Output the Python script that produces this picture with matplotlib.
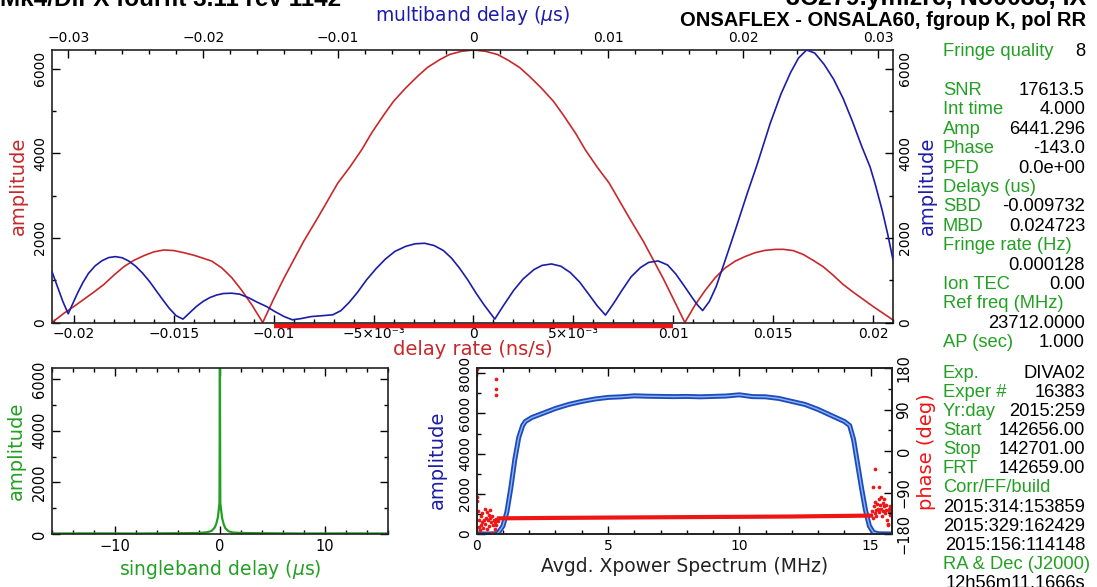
import numpy as np
import matplotlib
matplotlib.use('Agg')
import matplotlib.pyplot as plt
import matplotlib.ticker as ticker

# delay rate (ns/s) vs amplitude -- red curve
rate_x = [-0.0211, -0.0205, -0.0200, -0.0195, -0.0190, -0.0185, -0.0180, -0.0175,
          -0.0170, -0.0165, -0.0160, -0.0155, -0.0150, -0.0145, -0.0140, -0.0136,
          -0.0131, -0.0126, -0.0121, -0.0116, -0.0111, -0.01055,
          -0.0100, -0.0095, -0.0090, -0.0085, -0.0078, -0.0073, -0.0068, -0.0062,
          -0.0056, -0.0051, -0.0045, -0.0040, -0.0034, -0.0028, -0.0023, -0.0017,
          -0.0012, -0.0006, 0.0,
          0.0006, 0.0012, 0.0017, 0.0023, 0.0028, 0.0034, 0.0040, 0.0045,
          0.0051, 0.0056, 0.0062, 0.0068, 0.0073, 0.0078, 0.0085, 0.0090,
          0.0095, 0.0100, 0.01058,
          0.0111, 0.0116, 0.0121, 0.0126, 0.0131, 0.0136, 0.0141, 0.0146,
          0.0151, 0.0155, 0.0160, 0.0165, 0.0170, 0.0175, 0.0180, 0.0185,
          0.0190, 0.0195, 0.0200, 0.0205, 0.0210]
rate_amp = [0, 220, 380, 550, 720, 900, 1120, 1320,
            1470, 1580, 1670, 1714, 1700, 1650, 1590, 1530,
            1450, 1290, 1060, 760, 420, 0,
            560, 1037, 1480, 1920, 2472, 2880, 3290, 3667,
            4080, 4480, 4900, 5230, 5540, 5819, 6030, 6210,
            6335, 6410, 6441,
            6410, 6335, 6210, 6030, 5819, 5540, 5230, 4900,
            4480, 4080, 3667, 3290, 2880, 2472, 1920, 1480,
            1037, 560, 0,
            420, 760, 1060, 1290, 1450, 1560, 1650, 1705,
            1728, 1730, 1700, 1610, 1470, 1320, 1120, 900,
            720, 550, 380, 220, 60]

# multiband delay (us) vs amplitude -- blue curve
mbd_x = [-0.0312, -0.0308, -0.0304, -0.0300, -0.0297, -0.0293, -0.0289, -0.0285,
         -0.0280, -0.0275, -0.0270, -0.0265, -0.0260, -0.0255, -0.0250, -0.0245,
         -0.0240, -0.0235, -0.0230, -0.0225, -0.0220, -0.0215,
         -0.0210, -0.0205, -0.0200, -0.0195, -0.0190, -0.0185, -0.0179, -0.0173,
         -0.0166, -0.0160, -0.0153, -0.0147, -0.0140, -0.0134,
         -0.0128, -0.0120, -0.0113, -0.0104, -0.0098, -0.0092, -0.0086, -0.0079,
         -0.0072, -0.0065, -0.0058, -0.0050, -0.0043, -0.0036, -0.0029, -0.0022,
         -0.0016, -0.0010, -0.0004, 0.0002, 0.0008, 0.0016,
         0.0022, 0.0030, 0.0037, 0.0045, 0.0051, 0.0058, 0.0065, 0.0072,
         0.0079, 0.0086, 0.0092, 0.0098,
         0.0104, 0.0110, 0.0117, 0.0124, 0.0130, 0.0137, 0.0144, 0.0150,
         0.0156, 0.0162, 0.0166, 0.0170,
         0.0175, 0.0180, 0.0187, 0.0195, 0.0203, 0.0210, 0.0220, 0.0228,
         0.0235, 0.0241, 0.0247, 0.0253, 0.0260, 0.0267, 0.0274, 0.0281,
         0.0288, 0.0294, 0.0298, 0.0303, 0.0307, 0.0311]
mbd_amp = [1203, 850, 500, 205, 420, 700, 950, 1160,
           1340, 1460, 1535, 1557, 1530, 1450, 1330, 1170,
           980, 760, 540, 330, 160, 80,
           230, 380, 500, 590, 650, 685, 693, 670,
           580, 480, 377, 260, 140, 64,
           90, 140, 158, 182, 280, 470, 700, 1007,
           1270, 1500, 1680, 1800, 1860, 1873, 1820, 1700,
           1520, 1280, 1007, 700, 420, 80,
           380, 760, 1030, 1250, 1350, 1384, 1330, 1180,
           950, 650, 390, 175,
           450, 750, 1080, 1300, 1420, 1455, 1360, 1150,
           880, 600, 420, 283,
           500, 849, 1500, 2264, 3050, 3700, 4703, 5400,
           5900, 6250, 6441, 6370, 6100, 5750, 5300, 4750,
           4150, 3679, 3250, 2650, 2100, 1480]

# search window on delay rate axis
window_x = [-0.0100, 0.0100]

# singleband delay (us)
sbd_x = [-16, -12, -8, -4, -2, -1.2, -0.8, -0.5, -0.35, -0.2, -0.1, -0.05, -0.0097,
         0.03, 0.1, 0.2, 0.35, 0.5, 0.8, 1.2, 2, 4, 8, 12, 16]
sbd_amp = [20, 25, 20, 30, 40, 70, 120, 250, 400, 650, 1000, 1200, 6441,
           1200, 950, 620, 380, 230, 110, 60, 40, 30, 20, 25, 20]

# averaged cross power spectrum (MHz)
xp_freq = [0, 0.5, 0.8, 1.0, 1.15, 1.3, 1.45, 1.6, 1.75, 1.85, 2.1, 2.5, 3.0, 3.5,
           4.0, 4.5, 5.0, 5.5, 6.0, 6.5, 7.0, 7.5, 8.0, 8.5, 9.0, 9.5, 10.0, 10.5,
           11.0, 11.5, 12.0, 12.5, 13.0, 13.5, 14.0, 14.2, 14.35, 14.5, 14.65, 14.8,
           14.95, 15.1, 15.3, 15.8]
xp_amp = [0, 0, 20, 400, 1100, 2300, 3700, 4800, 5400, 5600, 5800, 6000, 6250, 6450,
          6600, 6720, 6800, 6830, 6880, 6860, 6850, 6840, 6850, 6830, 6850, 6870, 6930, 6840,
          6830, 6750, 6600, 6450, 6200, 5900, 5600, 5400, 4700, 3500, 2300, 1200,
          400, 80, 10, 0]

# phase (deg): band centre and the noisy edge channels
phase_line_x = [0.85, 3, 6, 9, 12, 15.0]
phase_line_y = [-146, -145, -144, -143, -142, -140]
phase_pts_x = [0.02, 0.03, 0.05, 0.08, 0.1, 0.12, 0.15, 0.18, 0.2, 0.22, 0.25, 0.28,
               0.3, 0.33, 0.35, 0.38, 0.4, 0.42, 0.45, 0.48, 0.5, 0.52, 0.55, 0.58,
               0.6, 0.62, 0.65, 0.68, 0.7, 0.72, 0.75, 0.78, 0.8,
               0.03, 0.72, 0.72, 0.72,
               15.0, 15.05, 15.1, 15.12, 15.15, 15.18, 15.2, 15.22, 15.25, 15.28,
               15.3, 15.32, 15.35, 15.38, 15.4, 15.42, 15.45, 15.48, 15.5, 15.52,
               15.55, 15.58, 15.6, 15.62, 15.65, 15.68, 15.7, 15.72, 15.75,
               15.15, 15.1, 15.3, 15.65]
phase_pts_y = [-100, -108, -130, -165, -150, -172, -140, -160, -155, -135, -168, -150,
               -125, -158, -145, -170, -132, -150, -138, -162, -128, -145, -155, -140,
               -178, -160, -150, -170, -155, -148, -160, -150, -152,
               178, 157, 135, 121,
               -138, -130, -145, -120, -135, -110, -128, -140, -115, -125,
               -105, -132, -118, -100, -125, -140, -112, -130, -120, -105,
               -135, -118, -128, -150, -160, -125, -132, -120, -138,
               -39, -78, -78, -158]

# fringe summary text
block1_labels = ['Fringe quality', '', 'SNR', 'Int time', 'Amp', 'Phase', 'PFD',
                 'Delays (us)', 'SBD', 'MBD', 'Fringe rate (Hz)', '', 'Ion TEC',
                 'Ref freq (MHz)', '', 'AP (sec)']
block1_values = ['8', '', '17613.5', '4.000', '6441.296', '-143.0', '0.0e+00',
                 '', '-0.009732', '0.024723', '', '0.000128', '0.00',
                 '', '23712.0000', '1.000']
block2_labels = ['Exp.', 'Exper #', 'Yr:day', 'Start', 'Stop', 'FRT', 'Corr/FF/build',
                 '', '', '', 'RA & Dec (J2000)', '']
block2_values = ['DIVA02', '16383', '2015:259', '142656.00', '142701.00', '142659.00', '',
                 '2015:314:153859', '2015:329:162429', '2015:156:114148', '',
                 '12h56m11.1666s']

RED = '#c8282a'
BLUE = '#1c1ca8'
GREEN = '#23a023'
BRIGHT_RED = '#ee1515'
W, H = 1097, 587

plt.rcParams['font.family'] = ['DejaVu Sans']
fig = plt.figure(figsize=(W / 100, H / 100), dpi=100)


def px_rect(left, top, right, bottom):
    return [left / W, 1 - bottom / H, (right - left) / W, (bottom - top) / H]


def style_ticks(ax):
    ax.tick_params(which='major', direction='in', length=6, width=1.0, labelsize=10)
    ax.tick_params(which='minor', direction='in', length=3, width=1.0)
    for s in ax.spines.values():
        s.set_linewidth(1.2)
        s.set_color('#222222')


def rotate_ylabels(ax):
    for lab in ax.get_yticklabels():
        lab.set_rotation(90)
        lab.set_va('center')


# ---- top panel: delay rate (red) + multiband delay (blue)
pos = px_rect(52, 50, 893, 322.5)
ax1 = fig.add_axes(pos)
ax1.plot(rate_x, rate_amp, color=RED, lw=1.2)
ax1.plot(window_x, [-85, -85], color=BRIGHT_RED, lw=3.2, clip_on=False,
         solid_capstyle='butt')
ax1.set_xlim(-0.0211, 0.0210)
ax1.set_ylim(0, 6441)
rate_ticks = [-0.02, -0.015, -0.01, -0.005, 0, 0.005, 0.01, 0.015, 0.02]
rate_labels = ['\u22120.02', '\u22120.015', '\u22120.01', '\u22125\u00d710\u207b\u00b3', '0',
               '5\u00d710\u207b\u00b3', '0.01', '0.015', '0.02']
ax1.set_xticks(rate_ticks)
ax1.set_xticklabels(rate_labels)
ax1.xaxis.set_minor_locator(ticker.MultipleLocator(0.001))
ax1.set_yticks([0, 2000, 4000, 6000])
ax1.yaxis.set_minor_locator(ticker.MultipleLocator(1000))
rotate_ylabels(ax1)
style_ticks(ax1)
ax1.set_xlabel('delay rate (ns/s)', color=RED, fontsize=14, labelpad=-1)
ax1.set_ylabel('amplitude', color=RED, fontsize=14, labelpad=4)

ax2 = fig.add_axes(pos, frameon=False)
ax2.patch.set_visible(False)
ax2.plot(mbd_x, mbd_amp, color=BLUE, lw=1.2)
ax2.set_xlim(-0.0312, 0.0311)
ax2.set_ylim(0, 6441)
ax2.xaxis.tick_top()
ax2.xaxis.set_label_position('top')
ax2.yaxis.tick_right()
ax2.yaxis.set_label_position('right')
ax2.set_xticks([-0.03, -0.02, -0.01, 0, 0.01, 0.02, 0.03])
ax2.set_xticklabels(['\u22120.03', '\u22120.02', '\u22120.01', '0', '0.01', '0.02', '0.03'])
ax2.xaxis.set_minor_locator(ticker.MultipleLocator(0.002))
ax2.set_yticks([0, 2000, 4000, 6000])
ax2.yaxis.set_minor_locator(ticker.MultipleLocator(1000))
rotate_ylabels(ax2)
style_ticks(ax2)
ax2.set_xlabel(r'multiband delay ($\mu$s)', color=BLUE, fontsize=13.5, labelpad=7)
ax2.set_ylabel('amplitude', color=BLUE, fontsize=14, labelpad=4)

# ---- bottom left: singleband delay
ax3 = fig.add_axes(px_rect(51.7, 367.7, 388.3, 534))
ax3.plot(sbd_x, sbd_amp, color=GREEN, lw=1.6)
ax3.set_xlim(-16, 16)
ax3.set_ylim(0, 6441)
ax3.set_xticks([-10, 0, 10])
ax3.set_xticklabels(['\u221210', '0', '10'])
ax3.xaxis.set_minor_locator(ticker.MultipleLocator(2))
ax3.set_yticks([0, 2000, 4000, 6000])
ax3.yaxis.set_minor_locator(ticker.MultipleLocator(1000))
ax3.tick_params(top=True, right=True, which='both')
rotate_ylabels(ax3)
style_ticks(ax3)
ax3.tick_params(labelsize=10.5)
ax3.set_xlabel(r'singleband delay ($\mu$s)', color=GREEN, fontsize=13.5, labelpad=3)
ax3.set_ylabel('amplitude', color=GREEN, fontsize=14, labelpad=4)

# ---- bottom right: cross power spectrum
ax4 = fig.add_axes(px_rect(476.7, 368.3, 891.7, 534))
ax4.plot(xp_freq, xp_amp, color='#1f4ab8', lw=3.6, solid_capstyle='round')
ax4.plot(xp_freq, xp_amp, color='#86b6ff', lw=1.0)
ax4.set_xlim(0, 15.8)
ax4.set_ylim(0, 8250)
ax4.set_xticks([0, 5, 10, 15])
ax4.xaxis.set_minor_locator(ticker.MultipleLocator(1))
ax4.set_yticks([0, 2000, 4000, 6000, 8000])
ax4.yaxis.set_minor_locator(ticker.MultipleLocator(1000))
ax4.tick_params(top=True, which='both')
rotate_ylabels(ax4)
style_ticks(ax4)
ax4.tick_params(labelsize=10)
ax4.set_xlabel('Avgd. Xpower Spectrum (MHz)', color='#222222', fontsize=13.5, labelpad=3)
ax4.set_ylabel('amplitude', color=BLUE, fontsize=14, labelpad=2)
ax4.yaxis.set_label_coords(-0.072, 0.45)

axp = ax4.twinx()
axp.plot(phase_line_x, phase_line_y, color=BRIGHT_RED, lw=3.0)
axp.scatter(phase_pts_x, phase_pts_y, color=BRIGHT_RED, s=7, linewidths=0)
axp.set_xlim(0, 15.8)
axp.set_ylim(-180, 180)
axp.set_yticks([-180, -90, 0, 90, 180])
axp.set_yticklabels(['\u2212180', '\u221290', '0', '90', '180'])
axp.yaxis.set_minor_locator(ticker.MultipleLocator(45))
rotate_ylabels(axp)
style_ticks(axp)
axp.tick_params(labelsize=10.5)
axp.set_ylabel('phase (deg)', color=BRIGHT_RED, fontsize=14, labelpad=4)

# ---- titles (partly cut at top, as in the original page)
fig.text(0.0, 1 - 6 / H, 'Mk4/DiFX fourfit 3.11 rev 1142', fontsize=17.5,
         fontweight='bold', family='Liberation Sans', va='baseline', ha='left')
fig.text(1086 / W, 1 - 5 / H, '3C279.ymlzrc, No0038, IX', fontsize=18,
         fontweight='bold', family='Liberation Sans', va='baseline', ha='right')
fig.text(1086 / W, 1 - 26 / H, 'ONSAFLEX - ONSALA60, fgroup K, pol RR', fontsize=14.5,
         fontweight='bold', family='Liberation Sans', va='baseline', ha='right')

# ---- right-hand summary
lab_x, val_x = 943 / W, 1085 / W
TXT = 13.2
for i, (lab, val) in enumerate(zip(block1_labels, block1_values)):
    y = 1 - (51.7 + 19.4 * i) / H
    if lab:
        fig.text(lab_x, y, lab, color=GREEN, fontsize=TXT, family='Liberation Sans',
                 va='center', ha='left')
    if val:
        fig.text(val_x, y, val, color='black', fontsize=TXT, family='Liberation Sans',
                 va='center', ha='right')
for i, (lab, val) in enumerate(zip(block2_labels, block2_values)):
    y = 1 - (373.3 + 19.1 * i) / H
    if lab:
        fig.text(lab_x, y, lab, color=GREEN, fontsize=TXT, family='Liberation Sans',
                 va='center', ha='left')
    if val:
        fig.text(val_x, y, val, color='black', fontsize=TXT, family='Liberation Sans',
                 va='center', ha='right')

fig.savefig('out.png', dpi=100)
